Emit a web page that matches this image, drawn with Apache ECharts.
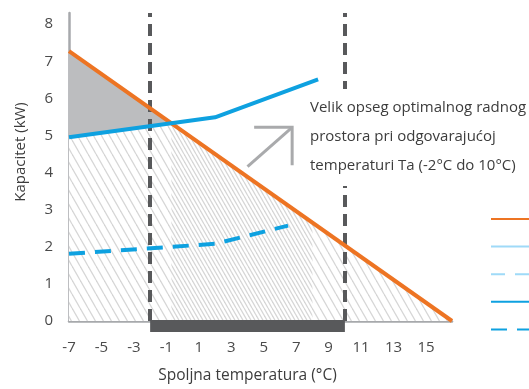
<!DOCTYPE html>
<html>
<head>
<meta charset="utf-8">
<script src="https://cdn.jsdelivr.net/npm/echarts@6/dist/echarts.min.js"></script>
<style>
html, body { margin: 0; padding: 0; background: #fff; }
#chart { width: 529px; height: 389px; }
</style>
</head>
<body>
<div id="chart"></div>
<script>
const chart = echarts.init(document.getElementById('chart'));

const xTicks = [-7, -5, -3, -1, 1, 3, 5, 7, 9, 11, 13, 15];
const yTicks = [0, 1, 2, 3, 4, 5, 6, 7, 8];
// orange: heating load, blue: inverter unit capacity
const loadLine = [[-7, 7.27], [16.6, 0]];
const inverterLine = [[-7, 4.95], [2, 5.49], [8.35, 6.51]];
const inverterDashed = [[-7, 1.81], [2, 2.08], [6.5, 2.57]];
const optimalRange = [-2, 10];
const denseEnd = 8;
const arrow = [4.0, 4.16, 6.75, 5.22];
const note = ['Velik opseg optimalnog radnog', 'prostora pri odgovarajućoj', 'temperaturi Ta (-2°C do 10°C)'];

const FONT = '"Open Sans", "Noto Sans", sans-serif';
const ORANGE = '#ed7423';
const BLUE = '#0ea1e0';
const LIGHT_BLUE = '#9fdaf8';
const DARK = '#58595b';

function at(pts, x) {
  for (let i = 1; i < pts.length; i++) {
    if (x <= pts[i][0] || i === pts.length - 1) {
      const [x0, y0] = pts[i - 1], [x1, y1] = pts[i];
      return y0 + (y1 - y0) * (x - x0) / (x1 - x0);
    }
  }
}
// where the load line drops under the inverter line
let cross = -7;
while (at(loadLine, cross) > at(inverterLine, cross)) cross += 0.01;

function hatch(offset, bg) {
  const c = document.createElement('canvas');
  c.width = 8; c.height = 14;
  const ctx = c.getContext('2d');
  if (bg) { ctx.fillStyle = bg; ctx.fillRect(0, 0, 8, 14); }
  ctx.strokeStyle = '#d6d6d6';
  ctx.lineWidth = 1.3;
  for (let k = -1; k <= 1; k++) {
    ctx.beginPath();
    ctx.moveTo(k * 8 + offset, 0);
    ctx.lineTo(k * 8 + offset + 8, 14);
    ctx.stroke();
  }
  return c;
}

const flat = { symbol: 'none', lineStyle: { width: 0 }, silent: true };

const option = {
  animation: false,
  grid: { left: 69, right: 77, top: 13, bottom: 68 },
  legend: {
    orient: 'vertical',
    left: 485,
    top: 207,
    itemWidth: 50,
    itemHeight: 14,
    itemGap: 15,
    selectedMode: false,
    itemStyle: { opacity: 0 },
    formatter: () => '',
    data: ['Potrebno grejanje', 'Standardna jedinica', 'Standardna jedinica (min)', 'Inverter jedinica', 'Inverter jedinica (min)']
  },
  xAxis: {
    type: 'value',
    min: -7,
    max: 16.6,
    axisLine: { onZero: false, lineStyle: { color: '#a7a9ac', width: 2.5 } },
    axisTick: { show: false },
    splitLine: { show: false },
    axisLabel: { customValues: xTicks, color: '#4a4a4a', fontSize: 15, fontFamily: FONT, margin: 19 },
    name: 'Spoljna temperatura (°C)',
    nameLocation: 'middle',
    nameGap: 47,
    nameTextStyle: { color: '#3c3c3c', fontSize: 15.5, fontFamily: FONT, padding: [0, 26, 0, 0] }
  },
  yAxis: {
    type: 'value',
    min: 0,
    max: 8.3,
    axisLine: { show: true, onZero: false, lineStyle: { color: '#a7a9ac', width: 2.5 } },
    axisTick: { show: false },
    splitLine: { show: false },
    axisLabel: { customValues: yTicks, color: '#4a4a4a', fontSize: 15, fontFamily: FONT, margin: 16 },
    name: 'Kapacitet (kW)',
    nameLocation: 'middle',
    nameGap: 41,
    nameTextStyle: { color: '#3c3c3c', fontSize: 15, fontFamily: FONT, padding: [0, 0, 0, 30] }
  },
  graphic: [{
    type: 'text',
    z: 20,
    x: 305,
    y: 89,
    style: {
      text: note.join('\n'), fill: '#3c3c3c', font: '15px ' + FONT, lineHeight: 29,
      backgroundColor: '#fff', padding: [4, 30, 6, 5]
    }
  }],
  series: [
    Object.assign({
      type: 'line', z: 1,
      data: [[-7, at(loadLine, -7)], [cross, at(loadLine, cross)]],
      areaStyle: { color: '#bcbdbf', opacity: 1 }
    }, flat),
    Object.assign({
      type: 'line', z: 2,
      data: [[-7, at(inverterLine, -7)], [cross, at(loadLine, cross)], loadLine[1]],
      areaStyle: { color: { image: hatch(0, '#fff'), repeat: 'repeat' }, opacity: 1 }
    }, flat),
    Object.assign({
      type: 'line', z: 3,
      data: [[cross, at(loadLine, cross)], [denseEnd, at(loadLine, denseEnd)]],
      areaStyle: { color: { image: hatch(4, null), repeat: 'repeat' }, opacity: 1 },
      markLine: {
        silent: true,
        symbol: ['none', 'none'],
        label: { show: false },
        lineStyle: { color: DARK, width: 4, type: [12, 7] },
        data: optimalRange.map(v => ({ xAxis: v }))
      }
    }, flat),
    {
      name: 'Potrebno grejanje', type: 'line', z: 5, symbol: 'none',
      lineStyle: { color: ORANGE, width: 4 }, itemStyle: { color: ORANGE },
      data: loadLine
    },
    {
      name: 'Standardna jedinica', type: 'line', z: 5, symbol: 'none',
      lineStyle: { color: LIGHT_BLUE, width: 4 }, itemStyle: { color: LIGHT_BLUE },
      data: []
    },
    {
      name: 'Standardna jedinica (min)', type: 'line', z: 5, symbol: 'none',
      lineStyle: { color: LIGHT_BLUE, width: 4, type: [14, 10] }, itemStyle: { color: LIGHT_BLUE },
      data: []
    },
    {
      name: 'Inverter jedinica', type: 'line', z: 6, symbol: 'none',
      lineStyle: { color: BLUE, width: 4 }, itemStyle: { color: BLUE },
      data: inverterLine
    },
    {
      name: 'Inverter jedinica (min)', type: 'line', z: 6, symbol: 'none',
      lineStyle: { color: BLUE, width: 4, type: [16, 10] }, itemStyle: { color: BLUE },
      data: inverterDashed
    },
    {
      type: 'custom', z: 7, clip: false, silent: true,
      encode: { x: [0, 1], y: 2 },
      data: [[optimalRange[0], optimalRange[1], 0]],
      renderItem: function (params, api) {
        const a = api.coord([api.value(0), api.value(2)]);
        const b = api.coord([api.value(1), api.value(2)]);
        return { type: 'rect', shape: { x: a[0], y: a[1] - 1, width: b[0] - a[0], height: 12 }, style: { fill: DARK } };
      }
    },
    {
      type: 'custom', z: 7, clip: false, silent: true,
      encode: { x: [0, 2], y: [1, 3] },
      data: [arrow],
      renderItem: function (params, api) {
        const a = api.coord([api.value(0), api.value(1)]);
        const b = api.coord([api.value(2), api.value(3)]);
        const st = { stroke: '#a9aaac', lineWidth: 3, fill: null };
        return {
          type: 'group',
          children: [
            { type: 'line', shape: { x1: a[0], y1: a[1], x2: b[0], y2: b[1] }, style: st },
            { type: 'polyline', shape: { points: [[b[0] - 38, b[1]], b, [b[0], b[1] + 38]] }, style: st }
          ]
        };
      }
    }
  ]
};

chart.setOption(option);
window.addEventListener('resize', function () { chart.resize(); });
</script>
</body>
</html>
